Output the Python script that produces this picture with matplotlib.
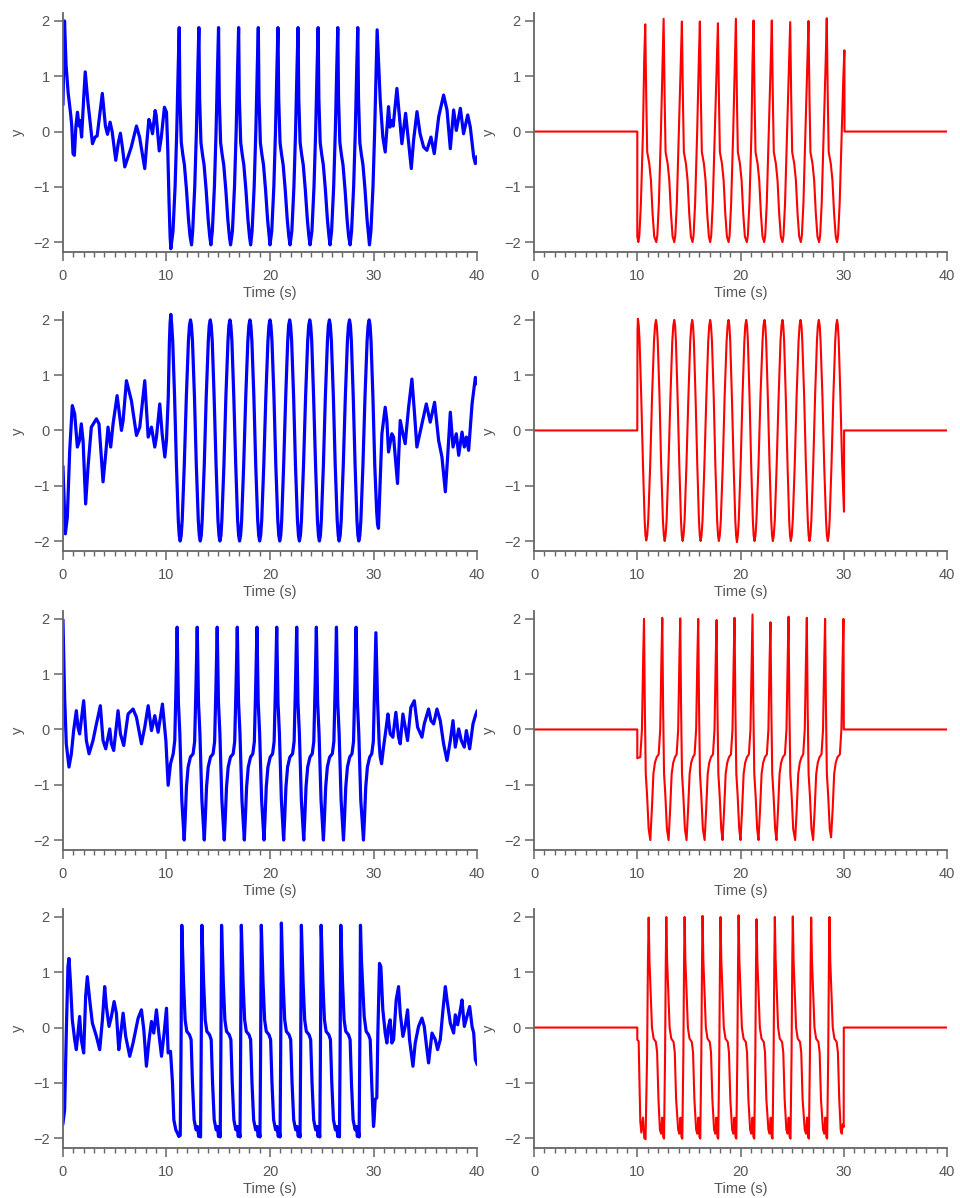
import matplotlib
matplotlib.use('Agg')
import matplotlib.pyplot as plt
from matplotlib.ticker import MultipleLocator

plt.rcParams['font.family'] = ['Liberation Sans', 'DejaVu Sans']

noisy_1 = [(0, 0.5), (0.15, 2.0), (0.3, 1.2), (0.5, 0.7), (0.75, 0.3), (0.85, 0.1), (0.97, -0.4), (1.1, -0.43),
           (1.25, 0.1), (1.4, 0.35), (1.55, 0.1), (1.65, 0.2), (1.8, -0.1), (2.0, 0.6), (2.15, 1.08), (2.4, 0.55),
           (2.6, 0.2), (2.85, -0.22), (3.1, -0.1), (3.3, -0.08), (3.8, 0.69), (4.1, 0.1), (4.3, -0.05), (4.55, 0.17),
           (4.75, 0.0), (5.1, -0.52), (5.35, -0.2), (5.55, -0.03), (5.75, -0.3), (5.97, -0.64), (6.3, -0.45),
           (6.6, -0.28), (7.1, 0.1), (7.4, -0.1), (7.9, -0.67), (8.1, -0.2), (8.3, 0.22), (8.5, 0.1), (8.65, -0.04),
           (8.9, 0.38), (9.0, 0.3), (9.3, -0.35), (9.5, -0.1), (9.8, 0.44), (10.0, 0.35), (10.12, -0.3),
           (10.25, -1.3), (10.35, -1.9), (10.42, -2.12), (10.63, -1.8), (10.83, -1.0), (10.99, 0.0), (11.13, 1.15),
           (11.23, 1.88), (11.3, 0.6), (11.43, -0.2), (11.58, -0.42), (11.73, -0.6), (11.93, -1.05), (12.13, -1.6),
           (12.28, -1.9), (12.42, -2.05), (12.53, -1.8), (12.73, -1.0), (12.89, 0.0), (13.03, 1.15), (13.13, 1.88),
           (13.2, 0.6), (13.33, -0.2), (13.48, -0.42), (13.63, -0.6), (13.83, -1.05), (14.03, -1.6), (14.18, -1.9),
           (14.29, -2.05), (14.43, -1.8), (14.63, -1.0), (14.79, 0.0), (14.93, 1.15), (15.03, 1.88),
           (15.1, 0.6), (15.23, -0.2), (15.38, -0.42), (15.53, -0.6), (15.73, -1.05), (15.93, -1.6), (16.08, -1.9),
           (16.19, -2.05), (16.37, -1.8), (16.57, -1.0), (16.73, 0.0), (16.87, 1.15), (16.97, 1.88),
           (17.04, 0.6), (17.17, -0.2), (17.32, -0.42), (17.47, -0.6), (17.67, -1.05), (17.87, -1.6), (18.02, -1.9),
           (18.13, -2.05), (18.27, -1.8), (18.47, -1.0), (18.63, 0.0), (18.77, 1.15), (18.87, 1.88),
           (18.94, 0.6), (19.07, -0.2), (19.22, -0.42), (19.37, -0.6), (19.57, -1.05), (19.77, -1.6), (19.92, -1.9),
           (20.0, -2.05), (20.17, -1.8), (20.37, -1.0), (20.53, 0.0), (20.67, 1.15), (20.77, 1.88),
           (20.84, 0.6), (20.97, -0.2), (21.12, -0.42), (21.27, -0.6), (21.47, -1.05), (21.67, -1.6), (21.82, -1.9),
           (21.94, -2.05), (22.11, -1.8), (22.31, -1.0), (22.47, 0.0), (22.61, 1.15), (22.71, 1.88),
           (22.78, 0.6), (22.91, -0.2), (23.06, -0.42), (23.21, -0.6), (23.41, -1.05), (23.61, -1.6), (23.76, -1.9),
           (23.87, -2.05), (24.05, -1.8), (24.25, -1.0), (24.41, 0.0), (24.55, 1.15), (24.65, 1.88),
           (24.72, 0.6), (24.85, -0.2), (25.0, -0.42), (25.15, -0.6), (25.35, -1.05), (25.55, -1.6), (25.7, -1.9),
           (25.8, -2.05), (25.95, -1.8), (26.15, -1.0), (26.31, 0.0), (26.45, 1.15), (26.55, 1.88),
           (26.62, 0.6), (26.75, -0.2), (26.9, -0.42), (27.05, -0.6), (27.25, -1.05), (27.45, -1.6), (27.6, -1.9),
           (27.74, -2.05), (27.88, -1.8), (28.08, -1.0), (28.24, 0.0), (28.38, 1.15), (28.48, 1.88),
           (28.55, 0.6), (28.68, -0.2), (28.83, -0.42), (28.98, -0.6), (29.18, -1.05), (29.38, -1.6), (29.53, -1.9),
           (29.61, -2.05), (29.75, -1.8), (29.95, -1.0), (30.11, 0.0), (30.25, 1.1), (30.35, 1.84),
           (30.65, 0.57), (30.9, -0.1), (31.13, -0.37), (31.45, 0.45), (31.6, 0.08), (31.77, 0.2), (31.9, 0.1),
           (32.26, 0.78), (32.5, 0.27), (32.74, -0.22), (33.1, 0.33), (33.4, -0.22), (33.65, -0.67), (33.87, -0.16),
           (34.2, 0.36), (34.5, -0.04), (34.84, -0.28), (35.16, -0.34), (35.55, -0.1), (35.87, -0.4), (36.3, 0.27),
           (36.77, 0.66), (37.1, 0.39), (37.42, -0.31), (37.74, 0.39), (38.0, 0.02), (38.39, 0.42), (38.7, -0.04),
           (39.1, 0.3), (39.35, 0.08), (39.68, -0.46), (39.84, -0.58), (40.0, -0.46)]

noisy_2 = [(0, -0.66), (0.23, -1.87), (0.42, -1.57), (0.65, -0.36), (0.9, 0.45), (1.13, 0.3), (1.39, -0.3),
           (1.6, -0.18), (1.77, 0.12), (1.94, -0.18), (2.19, -1.33), (2.42, -0.66), (2.74, 0.06), (3.23, 0.21),
           (3.48, 0.12), (3.87, -0.93), (4.13, -0.42), (4.35, 0.06), (4.61, -0.3), (4.84, 0.12), (5.23, 0.63),
           (5.65, 0.0), (5.81, 0.18), (6.13, 0.9), (6.61, 0.54), (7.1, -0.09), (7.42, 0.06), (7.9, 0.9),
           (8.23, -0.12), (8.55, 0.06), (8.87, -0.3), (9.03, -0.12), (9.35, 0.48), (9.58, -0.06), (9.84, -0.48),
           (10.0, -0.18), (10.17, 0.6), (10.28, 1.6), (10.35, 1.95), (10.42, 2.1),
           (10.51, 1.9), (10.6, 1.62), (10.78, 0.62), (10.96, -0.62), (11.14, -1.62), (11.23, -1.9), (11.32, -2.0),
           (11.42, -1.9), (11.52, -1.62), (11.72, -0.62), (11.92, 0.62), (12.12, 1.62), (12.22, 1.9), (12.32, 2.0),
           (12.41, 1.9), (12.51, 1.62), (12.7, 0.62), (12.88, -0.62), (13.07, -1.62), (13.17, -1.9), (13.26, -2.0),
           (13.36, -1.9), (13.45, -1.62), (13.65, -0.62), (13.84, 0.62), (14.04, 1.62), (14.13, 1.9), (14.23, 2.0),
           (14.32, 1.9), (14.42, 1.62), (14.6, 0.62), (14.79, -0.62), (14.97, -1.62), (15.07, -1.9), (15.16, -2.0),
           (15.26, -1.9), (15.35, -1.62), (15.55, -0.62), (15.74, 0.62), (15.94, 1.62), (16.03, 1.9), (16.13, 2.0),
           (16.22, 1.9), (16.32, 1.62), (16.5, 0.62), (16.69, -0.62), (16.87, -1.62), (16.97, -1.9), (17.06, -2.0),
           (17.16, -1.9), (17.26, -1.62), (17.46, -0.62), (17.66, 0.62), (17.86, 1.62), (17.96, 1.9), (18.06, 2.0),
           (18.15, 1.9), (18.25, 1.62), (18.44, 0.62), (18.62, -0.62), (18.81, -1.62), (18.91, -1.9), (19.0, -2.0),
           (19.1, -1.9), (19.2, -1.62), (19.4, -0.62), (19.6, 0.62), (19.8, 1.62), (19.9, 1.9), (20.0, 2.0),
           (20.09, 1.9), (20.19, 1.62), (20.38, 0.62), (20.56, -0.62), (20.75, -1.62), (20.85, -1.9), (20.94, -2.0),
           (21.04, -1.9), (21.13, -1.62), (21.32, -0.62), (21.52, 0.62), (21.71, 1.62), (21.8, 1.9), (21.9, 2.0),
           (21.99, 1.9), (22.09, 1.62), (22.28, 0.62), (22.46, -0.62), (22.65, -1.62), (22.75, -1.9), (22.84, -2.0),
           (22.94, -1.9), (23.04, -1.62), (23.24, -0.62), (23.44, 0.62), (23.64, 1.62), (23.74, 1.9), (23.84, 2.0),
           (23.93, 1.9), (24.03, 1.62), (24.21, 0.62), (24.4, -0.62), (24.58, -1.62), (24.68, -1.9), (24.77, -2.0),
           (24.87, -1.9), (24.96, -1.62), (25.16, -0.62), (25.35, 0.62), (25.55, 1.62), (25.64, 1.9), (25.74, 2.0),
           (25.83, 1.9), (25.93, 1.62), (26.12, 0.62), (26.3, -0.62), (26.49, -1.62), (26.59, -1.9), (26.68, -2.0),
           (26.78, -1.9), (26.88, -1.62), (27.08, -0.62), (27.28, 0.62), (27.48, 1.62), (27.58, 1.9), (27.68, 2.0),
           (27.77, 1.9), (27.86, 1.62), (28.04, 0.62), (28.22, -0.62), (28.4, -1.62), (28.49, -1.9), (28.58, -2.0),
           (28.68, -1.9), (28.78, -1.62), (28.98, -0.62), (29.18, 0.62), (29.38, 1.62), (29.48, 1.9), (29.58, 2.0),
           (29.67, 1.9), (29.76, 1.62), (29.94, 0.62), (30.12, -0.62), (30.3, -1.45), (30.39, -1.7), (30.48, -1.77),
           (30.81, -0.06), (31.13, 0.42), (31.29, 0.18), (31.45, -0.39), (31.77, -0.06), (31.94, -0.12),
           (32.32, -0.96), (32.58, 0.18), (32.84, -0.06), (33.06, -0.24), (33.39, 0.42), (33.71, 0.93),
           (33.94, 0.36), (34.19, -0.3), (34.68, 0.12), (35.1, 0.48), (35.48, 0.15), (35.9, 0.51), (36.29, -0.18),
           (36.61, -0.48), (36.94, -1.11), (37.16, -0.48), (37.42, 0.33), (37.68, -0.3), (38.0, -0.06),
           (38.23, -0.45), (38.55, -0.03), (38.77, -0.3), (38.97, -0.12), (39.19, -0.36), (39.52, 0.48),
           (39.84, 0.96), (40.0, 0.85)]

noisy_3 = [(0, 1.97), (0.16, 0.58), (0.32, -0.26), (0.58, -0.68), (0.81, -0.44), (1.03, -0.02), (1.29, 0.34),
           (1.45, 0.04), (1.61, -0.08), (1.77, 0.16), (2.0, 0.52), (2.26, -0.2), (2.52, -0.44), (2.9, -0.2),
           (3.23, 0.1), (3.61, 0.43), (3.87, -0.2), (4.13, -0.35), (4.52, 0.01), (4.68, -0.26), (4.9, -0.38),
           (5.32, 0.34), (5.55, -0.08), (5.87, -0.29), (6.29, 0.28), (6.77, 0.37), (7.1, 0.22), (7.58, -0.26),
           (7.9, 0.04), (8.23, 0.43), (8.55, -0.02), (8.87, 0.25), (9.19, -0.05), (9.61, 0.46), (9.94, -0.2),
           (10.16, -1.01), (10.39, -0.62), (10.65, -0.44), (10.8, -0.2), (10.92, 0.8), (11.03, 1.85),
           (11.15, 0.5), (11.29, -0.08), (11.48, -1.28), (11.71, -2.0), (11.81, -1.6), (11.93, -1.04),
           (12.09, -0.68), (12.31, -0.5), (12.57, -0.44), (12.72, -0.22), (12.85, 0.8), (12.97, 1.85),
           (13.09, 0.5), (13.23, -0.08), (13.42, -1.28), (13.65, -2.0), (13.75, -1.6), (13.87, -1.04),
           (14.03, -0.68), (14.25, -0.5), (14.5, -0.44), (14.65, -0.22), (14.78, 0.8), (14.9, 1.85),
           (15.02, 0.5), (15.16, -0.08), (15.35, -1.28), (15.58, -2.0), (15.68, -1.6), (15.8, -1.04),
           (15.96, -0.68), (16.18, -0.5), (16.44, -0.44), (16.59, -0.22), (16.72, 0.8), (16.84, 1.85),
           (16.96, 0.5), (17.1, -0.08), (17.29, -1.28), (17.52, -2.0), (17.62, -1.6), (17.74, -1.04),
           (17.9, -0.68), (18.12, -0.5), (18.34, -0.44), (18.49, -0.22), (18.62, 0.8), (18.74, 1.85),
           (18.86, 0.5), (19.0, -0.08), (19.19, -1.28), (19.42, -2.0), (19.52, -1.6), (19.64, -1.04),
           (19.8, -0.68), (20.02, -0.5), (20.25, -0.44), (20.4, -0.22), (20.53, 0.8), (20.65, 1.85),
           (20.77, 0.5), (20.91, -0.08), (21.1, -1.28), (21.32, -2.0), (21.42, -1.6), (21.54, -1.04),
           (21.7, -0.68), (21.92, -0.5), (22.18, -0.44), (22.33, -0.22), (22.46, 0.8), (22.58, 1.85),
           (22.7, 0.5), (22.84, -0.08), (23.03, -1.28), (23.26, -2.0), (23.36, -1.6), (23.48, -1.04),
           (23.64, -0.68), (23.86, -0.5), (24.08, -0.44), (24.23, -0.22), (24.36, 0.8), (24.48, 1.85),
           (24.6, 0.5), (24.74, -0.08), (24.93, -1.28), (25.16, -2.0), (25.26, -1.6), (25.38, -1.04),
           (25.54, -0.68), (25.76, -0.5), (26.02, -0.44), (26.17, -0.22), (26.3, 0.8), (26.42, 1.85),
           (26.54, 0.5), (26.68, -0.08), (26.87, -1.28), (27.1, -2.0), (27.2, -1.6), (27.32, -1.04),
           (27.48, -0.68), (27.7, -0.5), (27.92, -0.44), (28.07, -0.22), (28.2, 0.8), (28.32, 1.85),
           (28.44, 0.5), (28.58, -0.08), (28.77, -1.28), (29.03, -2.0), (29.13, -1.6), (29.25, -1.04),
           (29.41, -0.68), (29.63, -0.5), (29.83, -0.44), (29.98, -0.22), (30.11, 0.8), (30.23, 1.75),
           (30.39, 0.52), (30.55, -0.26), (30.65, -0.5), (30.78, -0.62), (30.97, -0.32), (31.23, 0.04),
           (31.39, 0.28), (31.61, -0.08), (31.87, -0.14), (32.16, 0.31), (32.42, -0.14), (32.58, -0.26),
           (32.84, 0.28), (33.06, 0.04), (33.29, -0.2), (33.61, 0.4), (33.94, 0.52), (34.26, 0.04),
           (34.68, -0.14), (34.9, 0.1), (35.32, 0.37), (35.55, 0.16), (35.81, 0.1), (36.13, 0.37), (36.45, 0.16),
           (36.77, -0.26), (37.1, -0.56), (37.42, -0.2), (37.68, 0.16), (37.9, -0.32), (38.23, 0.01),
           (38.48, -0.2), (38.77, -0.32), (38.97, -0.02), (39.29, -0.35), (39.61, 0.1), (39.84, 0.25),
           (40.0, 0.33)]

noisy_4 = [(0, -1.73), (0.16, -1.49), (0.32, -0.1), (0.48, 1.1), (0.58, 1.25), (0.71, 0.86), (0.9, 0.14),
           (1.13, -0.22), (1.29, -0.4), (1.61, 0.2), (1.77, -0.22), (2.0, -0.46), (2.19, 0.56), (2.35, 0.92),
           (2.58, 0.5), (2.84, 0.08), (3.23, -0.16), (3.55, -0.4), (3.81, 0.14), (4.03, 0.74), (4.19, 0.38),
           (4.45, 0.02), (4.68, 0.2), (4.94, 0.47), (5.16, 0.26), (5.39, -0.4), (5.55, -0.16), (5.81, 0.26),
           (6.06, -0.16), (6.45, -0.52), (6.77, -0.28), (7.26, 0.17), (7.58, 0.32), (7.81, -0.04), (8.06, -0.7),
           (8.32, -0.22), (8.55, 0.11), (8.77, -0.1), (9.03, 0.32), (9.26, -0.1), (9.52, -0.52), (9.77, -0.1),
           (10.0, 0.35), (10.16, -0.46), (10.39, -0.43), (10.58, -1.0), (10.71, -1.67), (10.9, -1.85),
           (11.06, -1.91), (11.19, -1.97), (11.33, -1.95), (11.4, -0.5), (11.48, 1.85),
           (11.58, 1.2), (11.65, 0.8), (11.8, 0.14), (11.96, -0.07), (12.22, -0.13), (12.38, -0.22), (12.51, -1.0),
           (12.67, -1.67), (12.86, -1.85), (12.99, -1.79), (13.12, -1.97), (13.22, -1.88), (13.29, -1.98),
           (13.35, -0.5), (13.42, 1.85),
           (13.52, 1.2), (13.59, 0.8), (13.74, 0.14), (13.9, -0.07), (14.16, -0.13), (14.32, -0.22), (14.45, -1.0),
           (14.61, -1.67), (14.8, -1.85), (14.93, -1.79), (15.02, -1.97), (15.12, -1.88), (15.19, -1.98),
           (15.25, -0.5), (15.32, 1.85),
           (15.42, 1.2), (15.49, 0.8), (15.64, 0.14), (15.8, -0.07), (16.06, -0.13), (16.22, -0.22), (16.35, -1.0),
           (16.51, -1.67), (16.7, -1.85), (16.83, -1.79), (16.93, -1.97), (17.03, -1.88), (17.1, -1.98),
           (17.16, -0.5), (17.23, 1.85),
           (17.33, 1.2), (17.4, 0.8), (17.55, 0.14), (17.71, -0.07), (17.97, -0.13), (18.13, -0.22), (18.26, -1.0),
           (18.42, -1.67), (18.61, -1.85), (18.74, -1.79), (18.86, -1.97), (18.96, -1.88), (19.03, -1.98),
           (19.09, -0.5), (19.16, 1.85),
           (19.26, 1.2), (19.33, 0.8), (19.48, 0.14), (19.64, -0.07), (19.9, -0.13), (20.06, -0.22), (20.19, -1.0),
           (20.35, -1.67), (20.54, -1.85), (20.67, -1.79), (20.8, -1.97), (20.9, -1.88), (20.97, -1.98),
           (21.03, -0.5), (21.1, 1.89),
           (21.2, 1.2), (21.27, 0.8), (21.42, 0.14), (21.58, -0.07), (21.84, -0.13), (22.0, -0.22), (22.13, -1.0),
           (22.29, -1.67), (22.48, -1.85), (22.61, -1.79), (22.73, -1.97), (22.83, -1.88), (22.9, -1.98),
           (22.96, -0.5), (23.03, 1.85),
           (23.13, 1.2), (23.2, 0.8), (23.35, 0.14), (23.51, -0.07), (23.77, -0.13), (23.93, -0.22), (24.06, -1.0),
           (24.22, -1.67), (24.41, -1.85), (24.54, -1.79), (24.64, -1.97), (24.74, -1.88), (24.81, -1.98),
           (24.87, -0.5), (24.94, 1.85),
           (25.04, 1.2), (25.11, 0.8), (25.26, 0.14), (25.42, -0.07), (25.68, -0.13), (25.84, -0.22), (25.97, -1.0),
           (26.13, -1.67), (26.32, -1.85), (26.45, -1.79), (26.54, -1.97), (26.64, -1.88), (26.71, -1.98),
           (26.77, -0.5), (26.84, 1.85),
           (26.94, 1.2), (27.01, 0.8), (27.16, 0.14), (27.32, -0.07), (27.58, -0.13), (27.74, -0.22), (27.87, -1.0),
           (28.03, -1.67), (28.22, -1.85), (28.35, -1.79), (28.44, -1.97), (28.54, -1.88), (28.61, -1.98),
           (28.67, -0.5), (28.74, 1.85),
           (28.84, 1.2), (28.94, 0.8), (29.1, 0.2), (29.29, -0.07), (29.52, -0.13), (29.68, -0.22), (29.84, -1.07),
           (30.0, -1.79), (30.06, -1.67), (30.16, -1.3), (30.32, -1.27), (30.42, -0.1), (30.58, 1.16),
           (30.71, 1.1), (30.9, 0.32), (31.13, -0.1), (31.29, -0.28), (31.45, 0.02), (31.61, 0.14), (31.77, -0.28),
           (31.94, -0.22), (32.19, 0.5), (32.42, 0.74), (32.58, 0.26), (32.84, -0.16), (33.06, 0.02), (33.29, 0.32),
           (33.48, -0.22), (33.81, -0.7), (34.03, -0.28), (34.35, 0.02), (34.68, 0.17), (34.9, 0.02), (35.16, -0.4),
           (35.32, -0.64), (35.65, -0.1), (35.97, -0.22), (36.19, -0.4), (36.45, -0.22), (36.71, 0.32),
           (36.94, 0.74), (37.1, 0.5), (37.42, 0.08), (37.74, -0.1), (37.9, 0.23), (38.13, 0.05), (38.39, 0.32),
           (38.55, 0.5), (38.77, 0.02), (39.03, 0.2), (39.29, 0.38), (39.52, 0.02), (39.68, -0.1), (39.84, -0.58),
           (40.0, -0.66)]

# clean signals (right column)
clean_1 = [(0, 0), (10.0, 0), (10.0, -1.9), (10.1, -2.0),
           (10.2, -1.88), (10.35, -1.3), (10.55, 0.0), (10.67, 1.3), (10.77, 1.94),
           (10.87, 0.57), (10.96, -0.37), (11.16, -0.58), (11.32, -0.88), (11.48, -1.48), (11.64, -1.9), (11.84, -2.0),
           (11.94, -1.88), (12.09, -1.3), (12.29, 0.0), (12.45, 1.3), (12.55, 2.04),
           (12.65, 0.57), (12.74, -0.37), (12.94, -0.58), (13.1, -0.88), (13.26, -1.48), (13.42, -1.9), (13.58, -2.0),
           (13.68, -1.88), (13.83, -1.3), (14.03, 0.0), (14.22, 1.3), (14.32, 1.99),
           (14.42, 0.57), (14.51, -0.37), (14.71, -0.58), (14.87, -0.88), (15.03, -1.48), (15.19, -1.9), (15.35, -2.0),
           (15.45, -1.88), (15.6, -1.3), (15.8, 0.0), (15.96, 1.3), (16.06, 1.99),
           (16.16, 0.57), (16.25, -0.37), (16.45, -0.58), (16.61, -0.88), (16.77, -1.48), (16.93, -1.9), (17.06, -2.0),
           (17.16, -1.88), (17.31, -1.3), (17.51, 0.0), (17.71, 1.3), (17.81, 1.96),
           (17.91, 0.57), (18.0, -0.37), (18.2, -0.58), (18.36, -0.88), (18.52, -1.48), (18.68, -1.9), (18.84, -2.0),
           (18.94, -1.88), (19.09, -1.3), (19.29, 0.0), (19.45, 1.3), (19.55, 2.04),
           (19.65, 0.57), (19.74, -0.37), (19.94, -0.58), (20.1, -0.88), (20.26, -1.48), (20.42, -1.9), (20.61, -2.0),
           (20.71, -1.88), (20.86, -1.3), (21.06, 0.0), (21.16, 1.3), (21.26, 2.01),
           (21.36, 0.57), (21.45, -0.37), (21.65, -0.58), (21.81, -0.88), (21.97, -1.48), (22.13, -1.9), (22.29, -2.0),
           (22.39, -1.88), (22.54, -1.3), (22.74, 0.0), (22.93, 1.3), (23.03, 2.01),
           (23.13, 0.57), (23.22, -0.37), (23.42, -0.58), (23.58, -0.88), (23.74, -1.48), (23.9, -1.9), (24.06, -2.0),
           (24.16, -1.88), (24.31, -1.3), (24.51, 0.0), (24.71, 1.3), (24.81, 1.98),
           (24.91, 0.57), (25.0, -0.37), (25.2, -0.58), (25.36, -0.88), (25.52, -1.48), (25.68, -1.9), (25.84, -2.0),
           (25.94, -1.88), (26.09, -1.3), (26.29, 0.0), (26.48, 1.3), (26.58, 2.0),
           (26.68, 0.57), (26.77, -0.37), (26.97, -0.58), (27.13, -0.88), (27.29, -1.48), (27.45, -1.9), (27.61, -2.0),
           (27.71, -1.88), (27.86, -1.3), (28.06, 0.0), (28.25, 1.3), (28.35, 2.05),
           (28.45, 0.57), (28.54, -0.37), (28.74, -0.58), (28.9, -0.88), (29.06, -1.48), (29.22, -1.9), (29.35, -2.0),
           (29.45, -1.88), (29.6, -1.3), (29.8, 0.0), (29.96, 1.0), (30.06, 1.47), (30.07, 0.0), (40.0, 0.0)]

clean_2 = [(0, 0), (10.0, 0), (10.02, 1.8), (10.06, 2.02),
           (10.14, 1.9), (10.22, 1.62), (10.38, 0.62), (10.55, -0.62), (10.71, -1.62), (10.79, -1.9), (10.87, -1.99),
           (10.96, -1.9), (11.06, -1.62), (11.25, -0.62), (11.43, 0.62), (11.62, 1.62), (11.72, 1.9), (11.81, 2.0),
           (11.89, 1.9), (11.98, 1.62), (12.15, 0.62), (12.31, -0.62), (12.48, -1.62), (12.57, -1.9), (12.65, -2.0),
           (12.74, -1.9), (12.84, -1.62), (13.02, -0.62), (13.21, 0.62), (13.39, 1.62), (13.49, 1.9), (13.58, 2.0),
           (13.66, 1.9), (13.74, 1.62), (13.9, 0.62), (14.07, -0.62), (14.23, -1.62), (14.31, -1.9), (14.39, -2.0),
           (14.48, -1.9), (14.58, -1.62), (14.76, -0.62), (14.95, 0.62), (15.13, 1.62), (15.23, 1.9), (15.32, 2.0),
           (15.4, 1.9), (15.48, 1.62), (15.64, 0.62), (15.81, -0.62), (15.97, -1.62), (16.05, -1.9), (16.13, -2.0),
           (16.22, -1.9), (16.32, -1.62), (16.5, -0.62), (16.69, 0.62), (16.87, 1.62), (16.97, 1.9), (17.06, 2.0),
           (17.14, 1.9), (17.23, 1.62), (17.4, 0.62), (17.56, -0.62), (17.73, -1.62), (17.82, -1.9), (17.9, -2.0),
           (17.99, -1.9), (18.09, -1.62), (18.28, -0.62), (18.46, 0.62), (18.65, 1.62), (18.75, 1.9), (18.84, 2.0),
           (18.92, 1.9), (19.0, 1.62), (19.16, 0.62), (19.33, -0.62), (19.49, -1.62), (19.57, -1.9), (19.65, -2.02),
           (19.74, -1.9), (19.83, -1.62), (20.01, -0.62), (20.19, 0.62), (20.37, 1.62), (20.46, 1.9), (20.55, 2.0),
           (20.63, 1.9), (20.71, 1.62), (20.87, 0.62), (21.03, -0.62), (21.19, -1.62), (21.27, -1.9), (21.35, -2.0),
           (21.45, -1.9), (21.54, -1.62), (21.74, -0.62), (21.93, 0.62), (22.13, 1.62), (22.22, 1.9), (22.32, 2.0),
           (22.4, 1.9), (22.48, 1.62), (22.64, 0.62), (22.81, -0.62), (22.97, -1.62), (23.05, -1.9), (23.13, -2.0),
           (23.22, -1.9), (23.32, -1.62), (23.5, -0.62), (23.69, 0.62), (23.87, 1.62), (23.97, 1.9), (24.06, 2.0),
           (24.14, 1.9), (24.22, 1.62), (24.38, 0.62), (24.55, -0.62), (24.71, -1.62), (24.79, -1.9), (24.87, -2.0),
           (24.96, -1.9), (25.06, -1.62), (25.25, -0.62), (25.43, 0.62), (25.62, 1.62), (25.72, 1.9), (25.81, 2.0),
           (25.9, 1.9), (25.98, 1.62), (26.16, 0.62), (26.33, -0.62), (26.51, -1.62), (26.59, -1.9), (26.68, -2.0),
           (26.77, -1.9), (26.86, -1.62), (27.04, -0.62), (27.22, 0.62), (27.4, 1.62), (27.49, 1.9), (27.58, 2.0),
           (27.67, 1.9), (27.75, 1.62), (27.93, 0.62), (28.1, -0.62), (28.28, -1.62), (28.36, -1.9), (28.45, -2.0),
           (28.54, -1.9), (28.63, -1.62), (28.81, -0.62), (28.99, 0.62), (29.17, 1.62), (29.26, 1.9), (29.35, 2.0),
           (29.43, 1.9), (29.51, 1.62), (29.67, 0.62), (29.84, -0.62), (30.02, -1.47), (30.03, 0.0), (40.0, 0.0)]

clean_3 = [(0, 0), (10.0, 0), (10.0, -0.52), (10.29, -0.5), (10.45, 0.0), (10.57, 1.3), (10.65, 2.0),
           (10.73, 0.4), (10.82, -0.8), (10.95, -1.2), (11.1, -1.8), (11.26, -2.0), (11.41, -1.45), (11.56, -0.8),
           (11.71, -0.6), (11.88, -0.5), (12.07, -0.45), (12.22, 0.0), (12.34, 1.3), (12.42, 2.02),
           (12.5, 0.4), (12.59, -0.8), (12.72, -1.2), (12.87, -1.8), (13.03, -2.0), (13.18, -1.45), (13.33, -0.8),
           (13.48, -0.6), (13.65, -0.5), (13.81, -0.45), (13.96, 0.0), (14.08, 1.3), (14.16, 2.01),
           (14.24, 0.4), (14.33, -0.8), (14.46, -1.2), (14.61, -1.8), (14.77, -2.0), (14.92, -1.45), (15.07, -0.8),
           (15.22, -0.6), (15.39, -0.5), (15.55, -0.45), (15.7, 0.0), (15.82, 1.3), (15.9, 2.0),
           (15.98, 0.4), (16.07, -0.8), (16.2, -1.2), (16.35, -1.8), (16.52, -2.0), (16.67, -1.45), (16.82, -0.8),
           (16.97, -0.6), (17.14, -0.5), (17.33, -0.45), (17.48, 0.0), (17.6, 1.3), (17.68, 1.98),
           (17.76, 0.4), (17.85, -0.8), (17.98, -1.2), (18.13, -1.8), (18.26, -2.0), (18.41, -1.45), (18.56, -0.8),
           (18.71, -0.6), (18.88, -0.5), (19.07, -0.45), (19.22, 0.0), (19.34, 1.3), (19.42, 2.02),
           (19.5, 0.4), (19.59, -0.8), (19.72, -1.2), (19.87, -1.8), (20.0, -2.0), (20.15, -1.45), (20.3, -0.8),
           (20.45, -0.6), (20.62, -0.5), (20.81, -0.45), (20.96, 0.0), (21.08, 1.3), (21.16, 2.08),
           (21.24, 0.4), (21.33, -0.8), (21.46, -1.2), (21.61, -1.8), (21.74, -2.0), (21.89, -1.45), (22.04, -0.8),
           (22.19, -0.6), (22.36, -0.5), (22.55, -0.45), (22.7, 0.0), (22.82, 1.3), (22.9, 1.94),
           (22.98, 0.4), (23.07, -0.8), (23.2, -1.2), (23.35, -1.8), (23.48, -2.0), (23.63, -1.45), (23.78, -0.8),
           (23.93, -0.6), (24.1, -0.5), (24.3, -0.45), (24.45, 0.0), (24.57, 1.3), (24.65, 2.04),
           (24.73, 0.4), (24.82, -0.8), (24.95, -1.2), (25.1, -1.8), (25.29, -2.0), (25.44, -1.45), (25.59, -0.8),
           (25.74, -0.6), (25.91, -0.5), (26.07, -0.45), (26.22, 0.0), (26.34, 1.3), (26.42, 2.02),
           (26.5, 0.4), (26.59, -0.8), (26.72, -1.2), (26.87, -1.8), (27.03, -2.0), (27.18, -1.45), (27.33, -0.8),
           (27.48, -0.6), (27.65, -0.5), (27.84, -0.45), (27.99, 0.0), (28.11, 1.3), (28.19, 2.0),
           (28.27, 0.4), (28.36, -0.8), (28.49, -1.2), (28.64, -1.8), (28.77, -1.95), (28.92, -1.45), (29.07, -0.8),
           (29.22, -0.6), (29.39, -0.5), (29.62, -0.45), (29.77, 0.0), (29.89, 1.3), (29.97, 2.0),
           (30.0, 0.0), (40.0, 0.0)]

clean_4 = [(0, 0), (10.0, 0), (10.0, -0.22), (10.13, -0.25), (10.29, -1.7), (10.39, -1.9), (10.55, -1.63),
           (10.68, -2.0), (10.8, -2.02), (10.95, -0.5), (11.03, 1.2), (11.1, 1.99),
           (11.18, 1.2), (11.26, 0.8), (11.42, 0.0), (11.58, -0.2), (11.8, -0.26), (11.92, -0.45), (12.05, -1.3),
           (12.19, -1.85), (12.31, -1.92), (12.41, -1.63), (12.51, -1.98), (12.59, -2.01), (12.69, -0.5),
           (12.76, 1.2), (12.81, 2.0),
           (12.89, 1.2), (12.97, 0.8), (13.13, 0.0), (13.29, -0.2), (13.51, -0.26), (13.63, -0.45), (13.76, -1.3),
           (13.96, -1.85), (14.08, -1.92), (14.18, -1.63), (14.28, -1.98), (14.36, -2.01), (14.46, -0.5),
           (14.53, 1.2), (14.58, 2.0),
           (14.66, 1.2), (14.74, 0.8), (14.9, 0.0), (15.06, -0.2), (15.28, -0.26), (15.4, -0.45), (15.53, -1.3),
           (15.7, -1.85), (15.82, -1.92), (15.92, -1.63), (16.02, -1.98), (16.1, -2.01), (16.2, -0.5),
           (16.27, 1.2), (16.32, 2.02),
           (16.4, 1.2), (16.48, 0.8), (16.64, 0.0), (16.8, -0.2), (17.02, -0.26), (17.14, -0.45), (17.27, -1.3),
           (17.44, -1.85), (17.56, -1.92), (17.66, -1.63), (17.76, -1.98), (17.84, -2.01), (17.94, -0.5),
           (18.01, 1.2), (18.06, 2.0),
           (18.14, 1.2), (18.22, 0.8), (18.38, 0.0), (18.54, -0.2), (18.76, -0.26), (18.88, -0.45), (19.01, -1.3),
           (19.19, -1.85), (19.31, -1.92), (19.41, -1.63), (19.51, -1.98), (19.59, -2.01), (19.69, -0.5),
           (19.76, 1.2), (19.81, 2.03),
           (19.89, 1.2), (19.97, 0.8), (20.13, 0.0), (20.29, -0.2), (20.51, -0.26), (20.63, -0.45), (20.76, -1.3),
           (20.93, -1.85), (21.05, -1.92), (21.15, -1.63), (21.25, -1.98), (21.33, -2.01), (21.43, -0.5),
           (21.5, 1.2), (21.55, 1.96),
           (21.63, 1.2), (21.71, 0.8), (21.87, 0.0), (22.03, -0.2), (22.25, -0.26), (22.37, -0.45), (22.5, -1.3),
           (22.7, -1.85), (22.82, -1.92), (22.92, -1.63), (23.02, -1.98), (23.1, -2.01), (23.2, -0.5),
           (23.27, 1.2), (23.32, 2.0),
           (23.4, 1.2), (23.48, 0.8), (23.64, 0.0), (23.8, -0.2), (24.02, -0.26), (24.14, -0.45), (24.27, -1.3),
           (24.44, -1.85), (24.56, -1.92), (24.66, -1.63), (24.76, -1.98), (24.84, -2.01), (24.94, -0.5),
           (25.01, 1.2), (25.06, 2.01),
           (25.14, 1.2), (25.22, 0.8), (25.38, 0.0), (25.54, -0.2), (25.76, -0.26), (25.88, -0.45), (26.01, -1.3),
           (26.22, -1.85), (26.34, -1.92), (26.44, -1.63), (26.54, -1.98), (26.62, -2.01), (26.72, -0.5),
           (26.79, 1.2), (26.84, 1.99),
           (26.92, 1.2), (27.0, 0.8), (27.16, 0.0), (27.32, -0.2), (27.54, -0.26), (27.66, -0.45), (27.79, -1.3),
           (27.99, -1.85), (28.11, -1.92), (28.21, -1.63), (28.31, -1.98), (28.39, -2.01), (28.49, -0.5),
           (28.56, 1.2), (28.61, 2.0),
           (28.69, 1.2), (28.77, 0.8), (28.93, 0.0), (29.09, -0.2), (29.31, -0.26), (29.43, -0.45), (29.56, -1.3),
           (29.7, -1.85), (29.8, -1.92), (29.9, -1.75), (29.99, -1.8), (30.0, 0.0), (40.0, 0.0)]

noisy_rows = [noisy_1, noisy_2, noisy_3, noisy_4]
clean_rows = [clean_1, clean_2, clean_3, clean_4]

GREY_TXT = '#555555'
GREY_AX = '#666666'


def style_axes(ax):
    ax.set_xlim(0, 40)
    ax.set_ylim(-2.18, 2.15)
    ax.spines['top'].set_visible(False)
    ax.spines['right'].set_visible(False)
    for s in ('left', 'bottom'):
        ax.spines[s].set_color(GREY_AX)
        ax.spines[s].set_linewidth(1.3)
    ax.set_xticks([0, 10, 20, 30, 40])
    ax.set_yticks([-2, -1, 0, 1, 2])
    ax.xaxis.set_minor_locator(MultipleLocator(1))
    ax.tick_params(which='major', length=6.5, width=1.1, color=GREY_AX,
                   labelcolor=GREY_TXT, labelsize=10.5)
    ax.tick_params(which='minor', length=3.5, width=1.0, color=GREY_AX)
    ax.tick_params(axis='x', which='major', pad=6)
    ax.tick_params(axis='y', pad=3)
    ax.set_xlabel('Time (s)', fontsize=10.5, color=GREY_TXT, labelpad=2)
    ax.set_ylabel('y', fontsize=10.5, color=GREY_TXT, labelpad=6)


fig = plt.figure(figsize=(9.6, 11.98), dpi=100)

row_bottoms = [0.7896, 0.5401, 0.2905, 0.0417]
height = 0.1998

for i in range(4):
    ax_l = fig.add_axes([0.0656, row_bottoms[i], 0.4313, height])
    t, y = zip(*noisy_rows[i])
    ax_l.plot(t, y, color='#0000ff', lw=2.3, solid_joinstyle='round')
    style_axes(ax_l)

    ax_r = fig.add_axes([0.5563, row_bottoms[i], 0.4302, height])
    t, y = zip(*clean_rows[i])
    ax_r.plot(t, y, color='#ff0000', lw=1.5, solid_joinstyle='round')
    style_axes(ax_r)

fig.savefig('out.png', dpi=100)
